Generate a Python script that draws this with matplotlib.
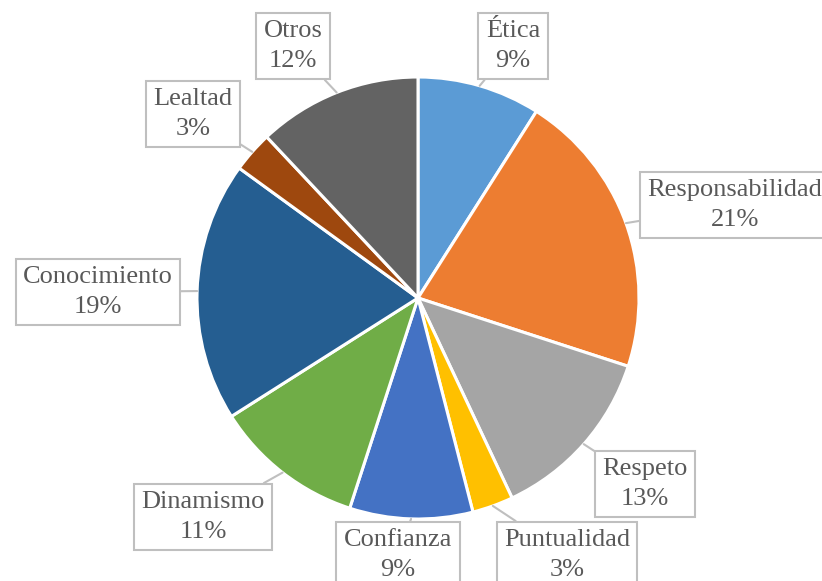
import numpy as np
import matplotlib
matplotlib.use('Agg')
import matplotlib.pyplot as plt

labels = ['Ética', 'Responsabilidad', 'Respeto', 'Puntualidad', 'Confianza',
          'Dinamismo', 'Conocimiento', 'Lealtad', 'Otros']
values = [9, 21, 13, 3, 9, 11, 19, 3, 12]
colors = ['#5B9BD5', '#ED7D31', '#A5A5A5', '#FFC000', '#4472C4',
          '#70AD47', '#255E91', '#9E480E', '#636363']
# label box centres in pixel coords (x, y from top)
label_pos = [(513, 46), (735, 205), (645, 484), (567, 555), (398, 555),
             (203, 517), (98, 292), (193, 114), (293, 46)]

W, H = 822, 581
plt.rcParams['font.family'] = ['Liberation Serif', 'DejaVu Serif']

fig = plt.figure(figsize=(W / 100, H / 100), dpi=100)
ax = fig.add_axes([0, 0, 1, 1])

cx, cy, r = 418, H - 298, 221
wedges, _ = ax.pie(values, colors=colors, startangle=90, counterclock=False,
                   center=(cx, cy), radius=r, frame=True,
                   wedgeprops=dict(edgecolor='white', linewidth=2.2))
ax.set_xlim(0, W)
ax.set_ylim(0, H)
ax.set_aspect('equal')
ax.axis('off')

total = sum(values)
cum = 0
for lab, v, (px, py) in zip(labels, values, label_pos):
    mid = np.deg2rad(90 - (cum + v / 2) / total * 360)
    cum += v
    xy = (cx + r * np.cos(mid), cy + r * np.sin(mid))
    ax.annotate(f'{lab}\n{v}%', xy=xy, xytext=(px, H - py),
                ha='center', va='center', fontsize=19, color='#595959',
                multialignment='center', linespacing=1.45,
                bbox=dict(boxstyle='square,pad=0.28', fc='white',
                          ec='#BFBFBF', lw=1.5),
                arrowprops=dict(arrowstyle='-', color='#BFBFBF', lw=1.5,
                                shrinkA=0, shrinkB=0))

fig.savefig('out.png', dpi=100)
